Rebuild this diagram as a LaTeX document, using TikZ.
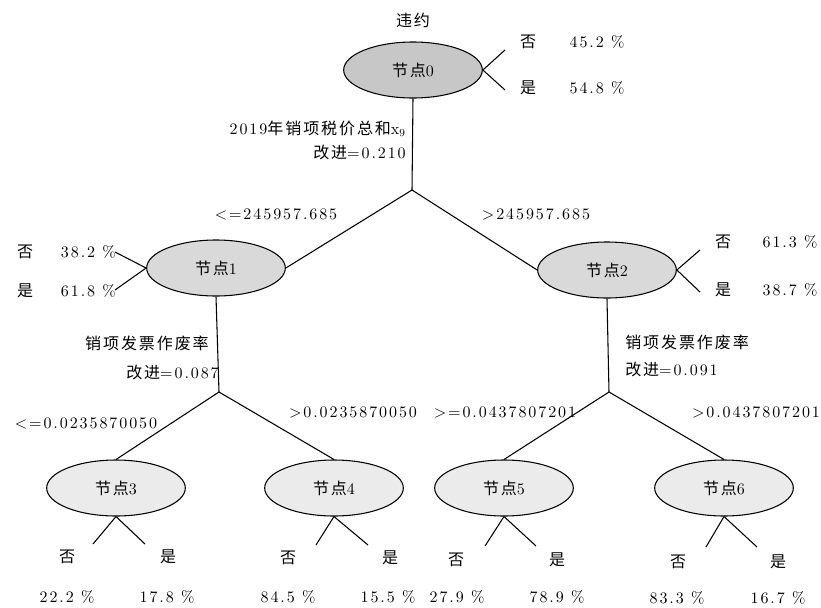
\documentclass[tikz,border=0pt]{standalone}
\usepackage{fontspec}
\setmainfont{lmroman10-regular.otf}[LetterSpace=12]
\newfontfamily\zh{Noto Sans CJK SC}[LetterSpace=12]
\usetikzlibrary{shapes.geometric}
\begin{document}
\begin{tikzpicture}[x=0.75pt,y=-0.75pt,font=\fontsize{12}{15}\selectfont]
% Styles
\tikzstyle{trait}=[line width=0.8pt]
\tikzstyle{noeud}=[ellipse,draw,line width=0.8pt,minimum width=104pt,minimum height=42pt,inner sep=0pt]
\tikzstyle{racine}=[noeud,fill=black!22]
\tikzstyle{interne}=[noeud,fill=black!15]
\tikzstyle{feuille}=[noeud,fill=black!8]
\tikzstyle{texte}=[inner sep=0pt]
% Cadre
\useasboundingbox (0,0) rectangle (821,607);
% Noeud 0
\node[texte] (cible) at (413,20) {\zh 违约};
\node[racine] (n0) at (413,70) {{\zh 节点}0};
\coordinate (n0a) at (505,50);
\coordinate (n0b) at (505,90);
\draw[trait] (n0.east) -- (n0a);
\draw[trait] (n0.east) -- (n0b);
\node[texte] (n0no) at (528,42) {\zh 否};
\node[texte] (n0nop) at (597,42) {45.2 \%};
\node[texte] (n0oui) at (528,88) {\zh 是};
\node[texte] (n0ouip) at (597,88) {54.8 \%};
\coordinate (b0) at (412,190);
\draw[trait] (n0.south) -- (b0);
\node[texte,anchor=east] (var0) at (406,129) {2019{\zh 年销项税价总和}x$_9$};
\node[texte,anchor=east] (gain0) at (406,152) {{\zh 改进}=0.210};
% Noeud 1
\node[interne] (n1) at (216,268) {{\zh 节点}1};
\draw[trait] (b0) -- (n1.east);
\node[texte] (s1) at (276,214) {<=245957.685};
\coordinate (n1a) at (115,252);
\coordinate (n1b) at (115,290);
\draw[trait] (n1.west) -- (n1a);
\draw[trait] (n1.west) -- (n1b);
\node[texte] (n1no) at (25,252) {\zh 否};
\node[texte,anchor=east] (n1nop) at (116,252) {38.2 \%};
\node[texte] (n1oui) at (25,291) {\zh 是};
\node[texte,anchor=east] (n1ouip) at (116,291) {61.8 \%};
\coordinate (b1) at (219,392);
\draw[trait] (n1.south) -- (b1);
\node[texte,anchor=east] (var1) at (209,343) {\zh 销项发票作废率};
\node[texte,anchor=east] (gain1) at (219,372) {{\zh 改进}=0.087};
% Noeud 2
\node[interne] (n2) at (607,270) {{\zh 节点}2};
\draw[trait] (b0) -- (n2.west);
\node[texte] (s2) at (536,214) {>245957.685};
\coordinate (n2a) at (700,250);
\coordinate (n2b) at (700,292);
\draw[trait] (n2.east) -- (n2a);
\draw[trait] (n2.east) -- (n2b);
\node[texte] (n2no) at (723,242) {\zh 否};
\node[texte] (n2nop) at (790,242) {61.3 \%};
\node[texte] (n2oui) at (723,290) {\zh 是};
\node[texte] (n2ouip) at (790,290) {38.7 \%};
\coordinate (b2) at (609,392);
\draw[trait] (n2.south) -- (b2);
\node[texte,anchor=west] (var2) at (625,342) {\zh 销项发票作废率};
\node[texte,anchor=west] (gain2) at (625,369) {{\zh 改进}=0.091};
% Noeud 3
\node[feuille] (n3) at (116,488) {{\zh 节点}3};
\draw[trait] (b1) -- (n3.north);
\node[texte] (s3) at (86,423) {<=0.0235870050};
\coordinate (n3a) at (93,544);
\coordinate (n3b) at (145,544);
\draw[trait] (n3.south) -- (n3a);
\draw[trait] (n3.south) -- (n3b);
\node[texte] (n3no) at (67,557) {\zh 否};
\node[texte] (n3oui) at (168,557) {\zh 是};
\node[texte] (n3nop) at (67,597) {22.2 \%};
\node[texte] (n3ouip) at (167,597) {17.8 \%};
% Noeud 4
\node[feuille] (n4) at (334,488) {{\zh 节点}4};
\draw[trait] (b1) -- (n4.north);
\node[texte] (s4) at (353,412) {>0.0235870050};
\coordinate (n4a) at (316,545);
\coordinate (n4b) at (368,545);
\draw[trait] (n4.south) -- (n4a);
\draw[trait] (n4.south) -- (n4b);
\node[texte] (n4no) at (288,558) {\zh 否};
\node[texte] (n4oui) at (390,558) {\zh 是};
\node[texte] (n4nop) at (288,597) {84.5 \%};
\node[texte] (n4ouip) at (388,597) {15.5 \%};
% Noeud 5
\node[feuille] (n5) at (504,488) {{\zh 节点}5};
\draw[trait] (b2) -- (n5.north);
\node[texte] (s5) at (505,412) {>=0.0437807201};
\coordinate (n5a) at (485,546);
\coordinate (n5b) at (536,546);
\draw[trait] (n5.south) -- (n5a);
\draw[trait] (n5.south) -- (n5b);
\node[texte] (n5no) at (456,560) {\zh 否};
\node[texte] (n5oui) at (557,560) {\zh 是};
\node[texte] (n5nop) at (457,597) {27.9 \%};
\node[texte] (n5ouip) at (557,597) {78.9 \%};
% Noeud 6
\node[feuille] (n6) at (724,488) {{\zh 节点}6};
\draw[trait] (b2) -- (n6.north);
\node[texte] (s6) at (756,412) {>0.0437807201};
\coordinate (n6a) at (706,547);
\coordinate (n6b) at (757,547);
\draw[trait] (n6.south) -- (n6a);
\draw[trait] (n6.south) -- (n6b);
\node[texte] (n6no) at (678,562) {\zh 否};
\node[texte] (n6oui) at (778,562) {\zh 是};
\node[texte] (n6nop) at (677,598) {83.3 \%};
\node[texte] (n6ouip) at (778,598) {16.7 \%};
\end{tikzpicture}
\end{document}
